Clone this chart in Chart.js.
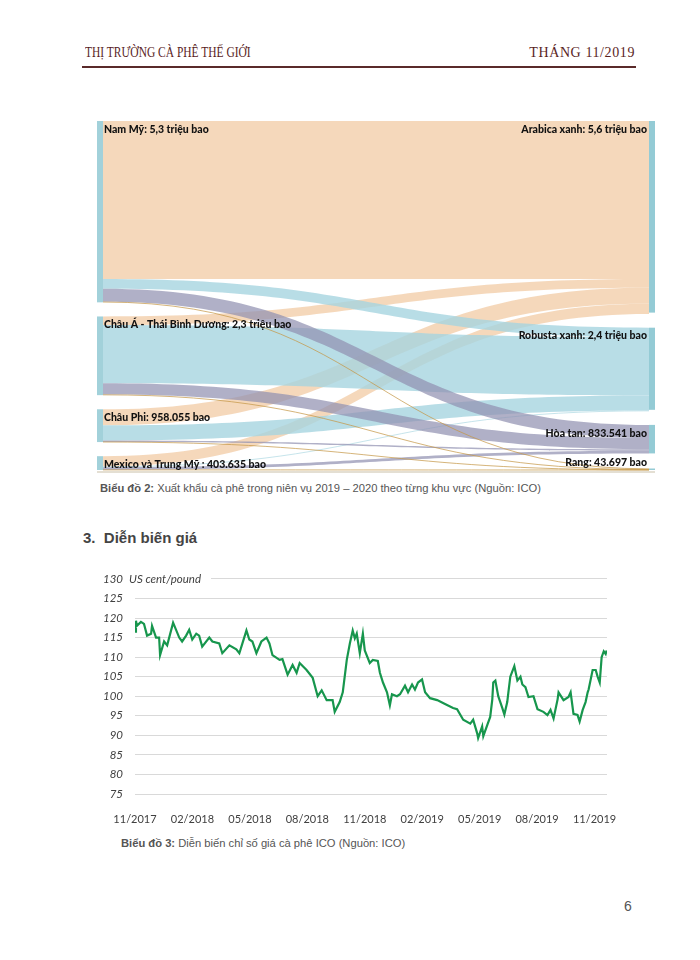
<!DOCTYPE html>
<html>
<head>
<meta charset="utf-8">
<script src="https://cdn.jsdelivr.net/npm/chart.js@4"></script>
<style>
  body { margin: 0; width: 700px; height: 960px; background: #fff; position: relative; font-family: 'Liberation Sans', Arial, sans-serif; overflow: hidden; }
  .abs { position: absolute; white-space: nowrap; }
  .head { font-family: 'Liberation Serif', serif; font-size: 14px; color: #5a1e1e; }
  .caption { font-size: 11.2px; color: #555; }
</style>
</head>
<body>
<div class="abs head" style="left:85px; top:45px; transform: scaleX(0.82); transform-origin: left top;">THỊ TRƯỜNG CÀ PHÊ THẾ GIỚI</div>
<div class="abs head" style="right:65px; top:45px; letter-spacing:0.6px;">THÁNG 11/2019</div>
<div class="abs" style="left:82px; top:66px; width:554px; height:1.5px; background:#5a2a2a;"></div>

<canvas id="sankeyChart" class="abs" style="left:90px; top:115px;" width="570" height="362"></canvas>
<div class="abs caption" style="left:100px; top:482px;"><b>Biểu đồ 2:</b> Xuất khẩu cà phê trong niên vụ 2019 – 2020 theo từng khu vực (Nguồn: ICO)</div>

<div class="abs" style="left:83px; top:529px; font-size:15px; font-weight:bold; color:#444;">3.&nbsp;&nbsp;Diễn biến giá</div>

<canvas id="priceChart" class="abs" style="left:80px; top:560px;" width="560" height="270"></canvas>
<div class="abs caption" style="left:121px; top:837px;"><b>Biểu đồ 3:</b> Diễn biến chỉ số giá cà phê ICO (Nguồn: ICO)</div>

<div class="abs" style="left:624px; top:898px; font-size:14px; color:#555;">6</div>

<script>
// ---------- Biểu đồ 2 : xuất khẩu theo khu vực (triệu bao) ----------
const regionLabels = ['Nam Mỹ: 5,3 triệu bao', 'Châu Á - Thái Bình Dương: 2,3 triệu bao', 'Châu Phi: 958.055 bao', 'Mexico và Trung Mỹ : 403.635 bao'];
const regionValues = [5.3, 2.3, 0.958055, 0.403635];
const productLabels = ['Arabica xanh: 5,6 triệu bao', 'Robusta xanh: 2,4 triệu bao', 'Hòa tan: 833.541 bao', 'Rang: 43.697 bao'];
const productValues = [5.6, 2.4, 0.833541, 0.043697];
// luồng từ từng khu vực (Nam Mỹ, Châu Á, Châu Phi, Mexico) sang từng loại
const flowArabica = [4.62, 0.25, 0.47, 0.30];
const flowRobusta = [0.28, 1.70, 0.44, 0.02];
const flowHoaTan  = [0.38, 0.33, 0.045, 0.08];
const flowRang    = [0.02, 0.02, 0.003, 0.0006];

// ---------- Biểu đồ 3 : chỉ số giá ICO ----------
// tháng tính từ 11/2017
const priceMonths = [0, 0.05, 0.1, 0.31, 0.47, 0.63, 0.84, 0.89, 1.1, 1.26, 1.31, 1.52, 1.68, 1.99, 2.31, 2.46, 2.67, 2.83, 2.99, 3.2,
  3.35, 3.51, 3.88, 4.04, 4.4, 4.56, 4.93, 5.29, 5.45, 5.61, 5.82, 5.97, 6.13, 6.34, 6.6, 6.87, 7.02, 7.18, 7.55, 7.7,
  7.97, 8.23, 8.44, 8.6, 8.96, 9.28, 9.54, 9.75, 10.01, 10.32, 10.43, 10.69, 10.85, 11.06, 11.22, 11.37, 11.48, 11.58, 11.74, 11.9,
  12.0, 12.26, 12.42, 12.68, 12.79, 12.95, 13.16, 13.31, 13.42, 13.68, 13.84, 14.1, 14.26, 14.47, 14.62, 14.78, 14.99, 15.15, 15.41, 15.78,
  16.19, 16.61, 16.82, 17.14, 17.51, 17.66, 17.87, 17.92, 18.13, 18.19, 18.4, 18.55, 18.66, 18.71, 18.82, 18.97, 19.18, 19.29, 19.44, 19.5,
  19.6, 19.81, 19.97, 20.13, 20.23, 20.39, 20.55, 20.81, 21.02, 21.33, 21.54, 21.7, 21.86, 22.07, 22.12, 22.38, 22.64, 22.75, 22.9, 23.11,
  23.22, 23.38, 23.53, 23.64, 23.69, 23.9, 24.06, 24.16, 24.27, 24.37, 24.48, 24.58, 24.63];
const priceValues = [116.5, 119.3, 118, 119, 118.5, 115.5, 116, 118, 115, 115, 110.5, 114, 113, 118.8, 115, 114, 115.5, 117, 114.5, 116,
  115.5, 112.7, 115, 114, 113.5, 111, 113, 112, 111, 113.5, 116.8, 114.5, 114, 111, 114, 115, 113.5, 110.5, 109.3, 109.5,
  105.5, 108, 106, 108.5, 106.7, 104.7, 100, 101.5, 99, 99, 96, 98.5, 101, 109.3, 113.5, 116.8, 114.8, 116, 111, 116,
  111.7, 108.5, 109.3, 109, 106, 103.5, 101, 97.7, 100.5, 100, 100.5, 102.7, 101, 103, 101.7, 103.5, 104.3, 101, 99.5, 99,
  98, 97, 96.7, 94, 93, 94, 90.5, 89.3, 92.3, 89.8, 92.7, 94.7, 99.2, 103.5, 104, 100, 97, 95.3, 98.5, 101,
  105, 107.7, 104, 105, 103, 102.3, 99.8, 100, 96.7, 96, 95.2, 96.5, 94.3, 99.2, 101, 99, 99.8, 101, 95.5, 95.2,
  93.5, 96.5, 98.5, 101, 101.7, 106.7, 106.7, 105, 103.5, 110, 111.5, 110.8, 111.7];
const xTickLabels = ['11/2017', '02/2018', '05/2018', '08/2018', '11/2018', '02/2019', '05/2019', '08/2019', '11/2019'];
const yAxisUnit = 'US cent/pound';

// ---------- sankey vẽ bằng plugin trên trục của Chart.js ----------
const SANKEY_MAX = 10.2;          // chiều cao trục y (triệu bao, kể cả khoảng hở)
const NODE_W = 6;
const flowsByProduct = [flowArabica, flowRobusta, flowHoaTan, flowRang];
const flowColors = ['rgba(242,206,170,0.8)', 'rgba(166,212,224,0.8)', 'rgba(146,145,178,0.72)', 'rgba(196,150,70,0.9)'];

function nodeTops(values) {
  const total = values.reduce((a, b) => a + b, 0);
  const gap = (SANKEY_MAX - total) / (values.length - 1);
  const tops = [];
  let acc = 0;
  values.forEach(v => { tops.push(acc); acc += v + gap; });
  return tops;
}

const sankeyPlugin = {
  id: 'sankey',
  beforeDatasetsDraw(chart) {
    const { ctx, scales: { x, y } } = chart;
    const xl = x.getPixelForValue(0) + NODE_W;
    const xr = x.getPixelForValue(1) - NODE_W;
    const xm = (xl + xr) / 2;
    const srcTops = nodeTops(regionValues);
    const tgtTops = nodeTops(productValues);
    const srcCursor = srcTops.slice();
    const srcStart = [];
    // vị trí bắt đầu ở nút nguồn: sắp theo thứ tự sản phẩm
    flowsByProduct.forEach((flows, t) => {
      srcStart[t] = flows.map((v, s) => { const p = srcCursor[s]; srcCursor[s] += v; return p; });
    });
    ctx.save();
    flowsByProduct.forEach((flows, t) => {
      let tgtCursor = tgtTops[t];
      flows.forEach((v, s) => {
        const ys0 = y.getPixelForValue(srcStart[t][s]);
        const ys1 = y.getPixelForValue(srcStart[t][s] + v);
        const yt0 = y.getPixelForValue(tgtCursor);
        const yt1 = y.getPixelForValue(tgtCursor + v);
        tgtCursor += v;
        if (ys1 - ys0 < 1.5) {
          const a = (ys0 + ys1) / 2, b = (yt0 + yt1) / 2;
          ctx.beginPath();
          ctx.moveTo(xl, a);
          ctx.bezierCurveTo(xm, a, xm, b, xr, b);
          ctx.strokeStyle = flowColors[t];
          ctx.lineWidth = Math.max(0.8, ys1 - ys0);
          ctx.stroke();
          return;
        }
        ctx.beginPath();
        ctx.moveTo(xl, ys0);
        ctx.bezierCurveTo(xm, ys0, xm, yt0, xr, yt0);
        ctx.lineTo(xr, yt1);
        ctx.bezierCurveTo(xm, yt1, xm, ys1, xl, ys1);
        ctx.closePath();
        ctx.fillStyle = flowColors[t];
        ctx.fill();
      });
    });
    ctx.restore();
  },
  afterDatasetsDraw(chart) {
    const { ctx, chartArea, scales: { x, y } } = chart;
    const x0 = x.getPixelForValue(0);
    const x1 = x.getPixelForValue(1);
    const srcTops = nodeTops(regionValues);
    const tgtTops = nodeTops(productValues);
    ctx.save();
    regionValues.forEach((v, i) => {
      const top = y.getPixelForValue(srcTops[i]);
      const bottom = y.getPixelForValue(srcTops[i] + v);
      ctx.fillStyle = '#a2d1da';
      ctx.fillRect(x0, top, NODE_W, Math.max(1, bottom - top));
    });
    productValues.forEach((v, i) => {
      const top = y.getPixelForValue(tgtTops[i]);
      const bottom = y.getPixelForValue(tgtTops[i] + v);
      ctx.fillStyle = '#94cbd5';
      ctx.fillRect(x1 - NODE_W, top, NODE_W, Math.max(1, bottom - top));
    });
    ctx.font = '900 10.5px Lato, "Liberation Sans", sans-serif';
    ctx.fillStyle = '#111';
    ctx.textBaseline = 'top';
    ctx.textAlign = 'left';
    regionLabels.forEach((lab, i) => {
      ctx.fillText(lab, x0 + NODE_W + 1, y.getPixelForValue(srcTops[i]) + 3);
    });
    ctx.textAlign = 'right';
    productLabels.forEach((lab, i) => {
      const top = y.getPixelForValue(tgtTops[i]);
      if (i === productLabels.length - 1) {
        ctx.textBaseline = 'bottom';
        ctx.fillText(lab, x1 - NODE_W - 2, top - 1);
      } else {
        ctx.textBaseline = 'top';
        ctx.fillText(lab, x1 - NODE_W - 2, top + 3);
      }
    });
    // viền dưới của hình
    ctx.fillStyle = '#e4dfd3';
    ctx.fillRect(chartArea.left, chartArea.bottom + 1, chartArea.right - chartArea.left, 2);
    ctx.restore();
  }
};

new Chart(document.getElementById('sankeyChart'), {
  type: 'scatter',
  data: { datasets: [{ data: [] }] },
  options: {
    responsive: false,
    animation: false,
    layout: { padding: { left: 7, top: 6, right: 5, bottom: 7 } },
    plugins: { legend: { display: false }, tooltip: { enabled: false } },
    scales: {
      x: { display: false, min: 0, max: 1 },
      y: { display: false, min: 0, max: SANKEY_MAX, reverse: true }
    }
  },
  plugins: [sankeyPlugin]
});

// ---------- biểu đồ giá ----------
const unitPlugin = {
  id: 'unitLabel',
  afterDraw(chart) {
    const { ctx, chartArea, scales: { y } } = chart;
    const py = y.getPixelForValue(130);
    ctx.save();
    ctx.fillStyle = '#fff';
    ctx.fillRect(chartArea.left - 1, py - 3, 77, 6);
    ctx.font = 'italic 11.5px Lato, "Liberation Sans", sans-serif';
    ctx.fillStyle = '#404040';
    ctx.textAlign = 'left';
    ctx.textBaseline = 'middle';
    ctx.fillText(yAxisUnit, chartArea.left - 6, py);
    ctx.restore();
  }
};

new Chart(document.getElementById('priceChart'), {
  type: 'line',
  data: {
    datasets: [{
      data: priceMonths.map((m, i) => ({ x: m, y: priceValues[i] })),
      borderColor: '#17964d',
      borderWidth: 2.2,
      pointRadius: 0,
      tension: 0
    }]
  },
  options: {
    responsive: false,
    animation: false,
    layout: { padding: { top: 14, right: 33, left: 0, bottom: 0 } },
    plugins: { legend: { display: false }, tooltip: { enabled: false } },
    scales: {
      x: {
        type: 'linear',
        min: 0,
        max: 24.65,
        grid: { display: false },
        border: { display: false },
        ticks: {
          stepSize: 3,
          includeBounds: false,
          autoSkip: false,
          maxRotation: 0,
          padding: 11,
          color: '#404040',
          font: { family: 'Lato', size: 11 },
          callback: v => xTickLabels[Math.round(v / 3)]
        },
        afterFit(scale) { scale.height = 36; }
      },
      y: {
        min: 75,
        max: 130,
        grid: { color: '#d9d9d9', drawTicks: false },
        border: { display: false },
        ticks: {
          stepSize: 5,
          padding: 12,
          color: '#404040',
          font: { family: 'Lato', style: 'italic', size: 11.5 }
        },
        afterFit(scale) { scale.width = 55; }
      }
    }
  },
  plugins: [unitPlugin]
});
</script>
</body>
</html>
